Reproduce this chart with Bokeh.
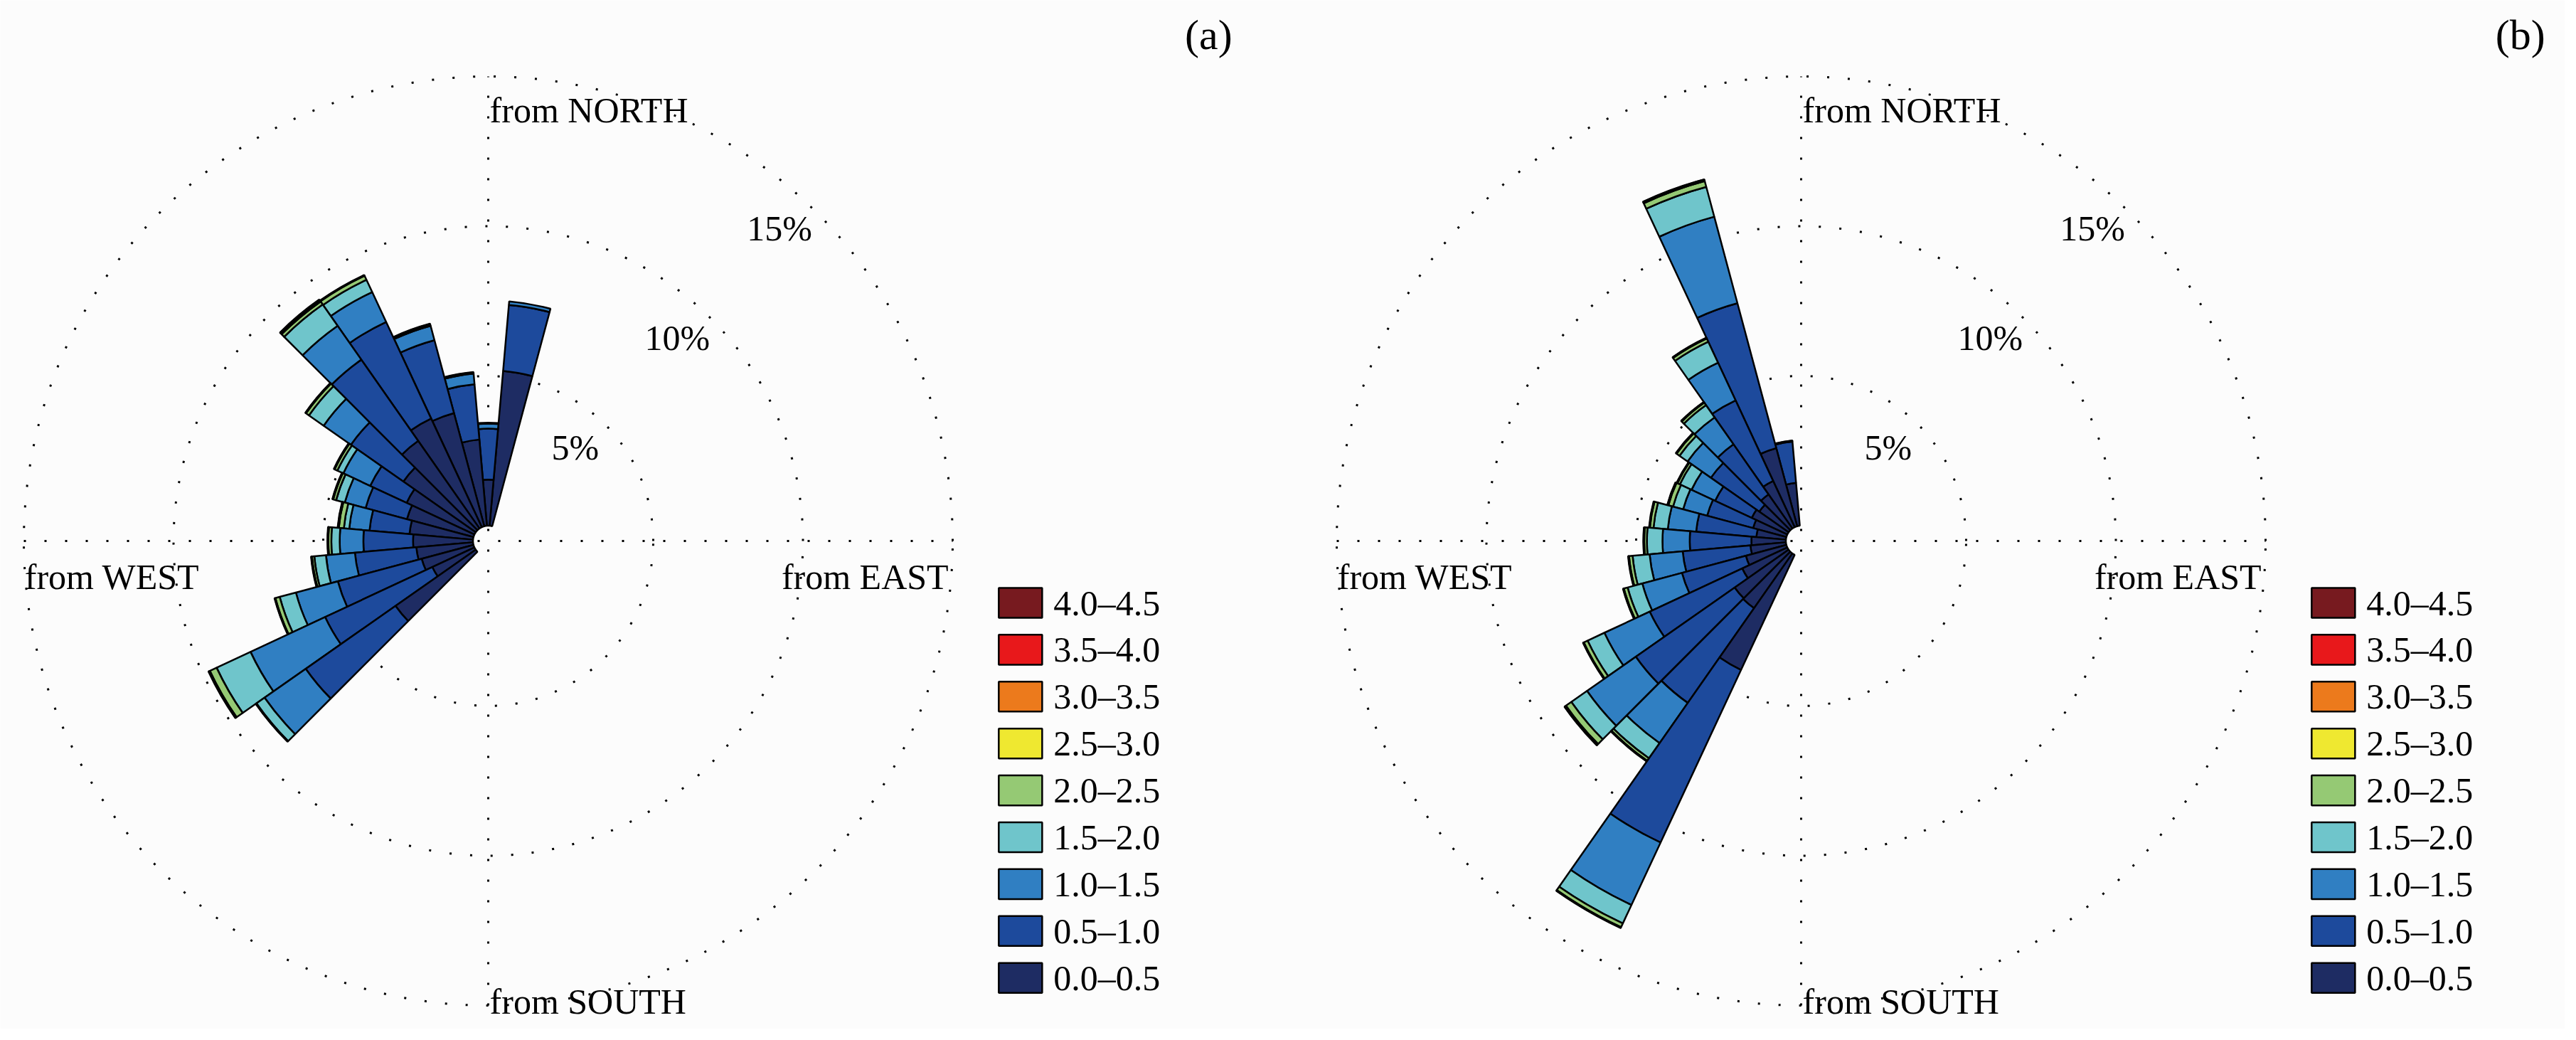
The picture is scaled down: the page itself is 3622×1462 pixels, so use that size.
import math
from bokeh.plotting import figure
from bokeh.models import Range1d, ColumnDataSource
from bokeh.embed import file_html
from bokeh.resources import INLINE
from bokeh.core.properties import value

# ---------------- data ----------------
speed_labels = ["0.0–0.5", "0.5–1.0", "1.0–1.5", "1.5–2.0", "2.0–2.5",
                "2.5–3.0", "3.0–3.5", "3.5–4.0", "4.0–4.5"]
speed_colors = ["#1e2c63", "#1d4a9c", "#307fc2", "#6fc5cb", "#95c974",
                "#efe830", "#ec7a1c", "#e8181b", "#771a1f"]

# panel (a): direction the wind comes from (deg, clockwise from north)
dirs_a = [10, 0, 350, 340, 330, 320, 310, 300, 290, 280, 270, 260, 250, 240, 230]
a_00_05 = [5.19, 1.54, 2.89, 3.91, 4.00, 3.57, 2.95, 2.50, 2.30, 2.13, 2.00, 1.90, 1.79, 1.55, 3.27]
a_05_10 = [2.21, 1.70, 1.85, 2.52, 3.56, 3.31, 2.14, 1.34, 1.43, 1.34, 1.66, 2.06, 2.90, 3.95, 3.66]
a_10_15 = [0.12, 0.17, 0.36, 0.50, 1.10, 1.38, 1.11, 0.99, 0.72, 0.68, 0.79, 0.97, 1.45, 2.75, 1.68]
a_15_20 = [0.00, 0.03, 0.04, 0.04, 0.45, 0.87, 0.60, 0.22, 0.30, 0.18, 0.28, 0.39, 0.56, 1.25, 0.33]
a_20_25 = [0.00, 0.00, 0.01, 0.02, 0.15, 0.12, 0.12, 0.10, 0.10, 0.17, 0.10, 0.08, 0.15, 0.25, 0.02]
a_25_30 = [0.00, 0.00, 0.00, 0.01, 0.02, 0.05, 0.02, 0.02, 0.02, 0.02, 0.02, 0.02, 0.02, 0.02, 0.01]
a_30_35 = [0.00, 0.00, 0.00, 0.00, 0.01, 0.02, 0.01, 0.01, 0.01, 0.01, 0.01, 0.01, 0.01, 0.02, 0.00]
a_35_40 = [0.00, 0.00, 0.00, 0.00, 0.00, 0.01, 0.00, 0.00, 0.00, 0.01, 0.00, 0.00, 0.00, 0.01, 0.00]
a_40_45 = [0.00] * 15

# panel (b)
dirs_b = [350, 340, 330, 320, 310, 300, 290, 280, 270, 260, 250, 240, 230, 220, 210]
b_00_05 = [1.44, 2.70, 1.70, 1.39, 1.20, 1.31, 1.15, 0.99, 1.15, 1.19, 1.40, 1.66, 2.20, 2.23, 4.24]
b_05_10 = [1.38, 5.01, 2.97, 2.04, 1.97, 1.35, 1.59, 2.02, 2.06, 2.27, 2.21, 3.41, 4.03, 3.86, 6.36]
b_10_15 = [0.03, 2.99, 1.39, 1.10, 0.95, 0.87, 0.83, 0.95, 0.91, 1.11, 1.37, 1.67, 1.99, 1.64, 2.30]
b_15_20 = [0.01, 1.03, 0.77, 0.50, 0.33, 0.43, 0.35, 0.48, 0.52, 0.57, 0.51, 0.62, 0.64, 0.62, 0.68]
b_20_25 = [0.00, 0.20, 0.12, 0.10, 0.12, 0.09, 0.16, 0.12, 0.09, 0.12, 0.13, 0.14, 0.22, 0.10, 0.14]
b_25_30 = [0.00, 0.03, 0.02, 0.02, 0.02, 0.02, 0.02, 0.02, 0.02, 0.02, 0.02, 0.02, 0.04, 0.02, 0.02]
b_30_35 = [0.00, 0.02, 0.01, 0.01, 0.01, 0.01, 0.01, 0.01, 0.01, 0.01, 0.01, 0.01, 0.01, 0.01, 0.01]
b_35_40 = [0.00, 0.01, 0.00, 0.00, 0.00, 0.00, 0.01, 0.00, 0.00, 0.00, 0.00, 0.00, 0.01, 0.00, 0.00]
b_40_45 = [0.00] * 15

ring_values = [5, 10, 15]
ring_labels = ["5%", "10%", "15%"]
panel_labels = ["(a)", "(b)"]

# ---------------- layout ----------------
PX = 42.1            # screen px per 1 %
HOLE = 21.5 / PX     # empty centre
W, H = 3606, 1446
CXA_PX, CY_PX = 686, 760
PANEL_GAP_PX = 1846
BIN = 10.0
FONT = value("Liberation Serif")
BG = "#fcfcfc"

p = figure(width=W, height=H, output_backend="svg", toolbar_location=None,
           x_range=Range1d(-CXA_PX / PX, (W - CXA_PX) / PX),
           y_range=Range1d(-(H - CY_PX) / PX, CY_PX / PX),
           min_border=0)
p.axis.visible = False
p.grid.visible = False
p.outline_line_color = None
p.background_fill_color = BG
p.border_fill_color = BG


def draw_panel(cx, dirs, stacks, label):
    r_out = HOLE + ring_values[-1]
    # dotted rings
    p.arc(x=[cx] * len(ring_values), y=[0] * len(ring_values),
          radius=[HOLE + v for v in ring_values],
          start_angle=0, end_angle=2 * math.pi,
          line_color="black", line_width=3, line_dash="3 26")
    # dotted axes
    p.segment(x0=[cx - r_out, cx], y0=[0, -r_out], x1=[cx + r_out, cx], y1=[0, r_out],
              line_color="black", line_width=3, line_dash="3 26")

    # stacked wedges
    data = dict(x=[], y=[], ir=[], orad=[], sa=[], ea=[], color=[])
    for i, d in enumerate(dirs):
        cum = 0.0
        for j, series in enumerate(stacks):
            v = series[i]
            if v <= 0:
                continue
            data["x"].append(cx)
            data["y"].append(0)
            data["ir"].append(HOLE + cum)
            data["orad"].append(HOLE + cum + v)
            data["sa"].append(math.radians(90 - d - BIN / 2))
            data["ea"].append(math.radians(90 - d + BIN / 2))
            data["color"].append(speed_colors[j])
            cum += v
    src = ColumnDataSource(data)
    p.annular_wedge(x="x", y="y", inner_radius="ir", outer_radius="orad",
                    start_angle="sa", end_angle="ea", fill_color="color",
                    line_color="black", line_width=2.5, source=src)

    # ring labels
    ang = math.radians(43)
    rl = [HOLE + v - 1.25 for v in ring_values]
    p.text(x=[cx + r * math.sin(ang) for r in rl], y=[r * math.cos(ang) for r in rl],
           text=ring_labels, text_font=FONT, text_font_size="50px",
           text_align="center", text_baseline="middle", text_color="black")

    # compass labels
    p.text(x=[cx + 0.05], y=[r_out - 1.12], text=["from NORTH"], text_font=FONT,
           text_font_size="50px", text_align="left", text_baseline="alphabetic")
    p.text(x=[cx + 0.05], y=[-(r_out - 0.14)], text=["from SOUTH"], text_font=FONT,
           text_font_size="50px", text_align="left", text_baseline="alphabetic")
    p.text(x=[cx - r_out + 0.03], y=[-1.19], text=["from WEST"], text_font=FONT,
           text_font_size="50px", text_align="left", text_baseline="alphabetic")
    p.text(x=[cx + r_out - 0.14], y=[-1.19], text=["from EAST"], text_font=FONT,
           text_font_size="50px", text_align="right", text_baseline="alphabetic")

    # legend (top row = highest speed)
    n = len(speed_labels)
    order = list(range(n - 1, -1, -1))
    ys = [-(87 + k * 65.9) / PX for k in range(n)]
    box_x = cx + 17.05 + 1.45 / 2
    p.rect(x=[box_x] * n, y=ys, width=1.45, height=1.0,
           fill_color=[speed_colors[j] for j in order],
           line_color="black", line_width=2.5)
    p.text(x=[cx + 18.88] * n, y=ys, text=[speed_labels[j] for j in order],
           text_font=FONT, text_font_size="50px", text_align="left",
           text_baseline="middle", text_color="black")

    # panel label
    p.text(x=[cx + 24.85], y=[16.89], text=[label], text_font=FONT,
           text_font_size="60px", text_align="right", text_baseline="middle")


stacks_a = [a_00_05, a_05_10, a_10_15, a_15_20, a_20_25, a_25_30, a_30_35, a_35_40, a_40_45]
stacks_b = [b_00_05, b_05_10, b_10_15, b_15_20, b_20_25, b_25_30, b_30_35, b_35_40, b_40_45]

draw_panel(0.0, dirs_a, stacks_a, panel_labels[0])
draw_panel(PANEL_GAP_PX / PX, dirs_b, stacks_b, panel_labels[1])

open("out.html", "w").write(file_html(p, INLINE, title="wind roses"))
